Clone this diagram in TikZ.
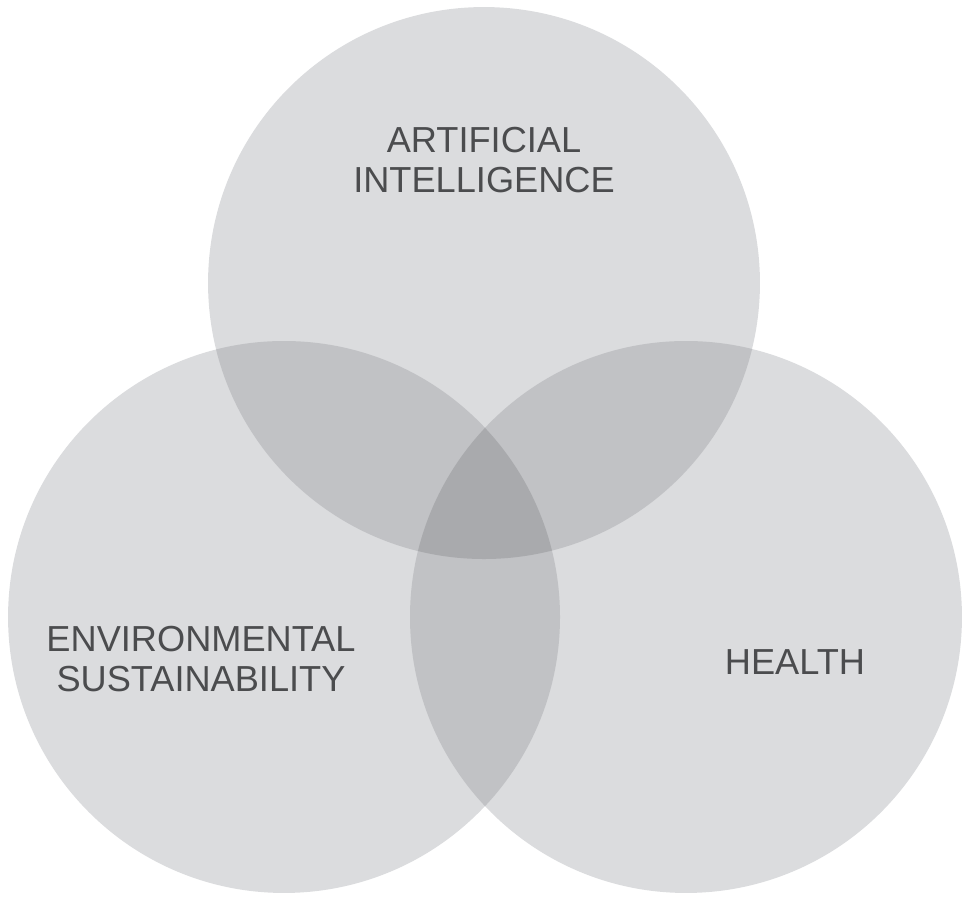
\documentclass[tikz,border=0pt]{standalone}
\usepackage{fontspec}
\setmainfont{Liberation Sans}
\definecolor{oneshade}{HTML}{DBDCDE}
\definecolor{twoshade}{HTML}{C1C2C5}
\definecolor{threeshade}{HTML}{A9AAAD}
\definecolor{labeltext}{HTML}{4B4C4E}
\newcommand{\setr}{276}
\tikzset{setcircle/.style = {shape=circle, minimum size=11.04cm, inner sep=0pt, fill=oneshade}}
\tikzset{setlabel/.style = {align=center, inner sep=0pt, text=labeltext, font=\fontsize{20.6}{23.2}\selectfont}}

\begin{document}
\begin{tikzpicture}[x=0.02cm, y=-0.02cm]
\useasboundingbox (0,0) rectangle (969,896);
% sets
\node[setcircle] (ai) at (484,283) {};
\node[setcircle] (env) at (284,617) {};
\node[setcircle] (health) at (686,617) {};
% pairwise overlaps
\begin{scope}
\clip (ai.center) circle[radius=\setr];
\fill[twoshade] (env.center) circle[radius=\setr];
\fill[twoshade] (health.center) circle[radius=\setr];
\end{scope}
\begin{scope}
\clip (env.center) circle[radius=\setr];
\fill[twoshade] (health.center) circle[radius=\setr];
\end{scope}
% centre
\begin{scope}
\clip (ai.center) circle[radius=\setr];
\clip (env.center) circle[radius=\setr];
\fill[threeshade] (health.center) circle[radius=\setr];
\end{scope}
% labels
\node[setlabel] (ailabel) at (484,160) {ARTIFICIAL\\INTELLIGENCE};
\node[setlabel] (envlabel) at (201,659) {ENVIRONMENTAL\\SUSTAINABILITY};
\node[setlabel] (healthlabel) at (795,662) {HEALTH};
\end{tikzpicture}
\end{document}
